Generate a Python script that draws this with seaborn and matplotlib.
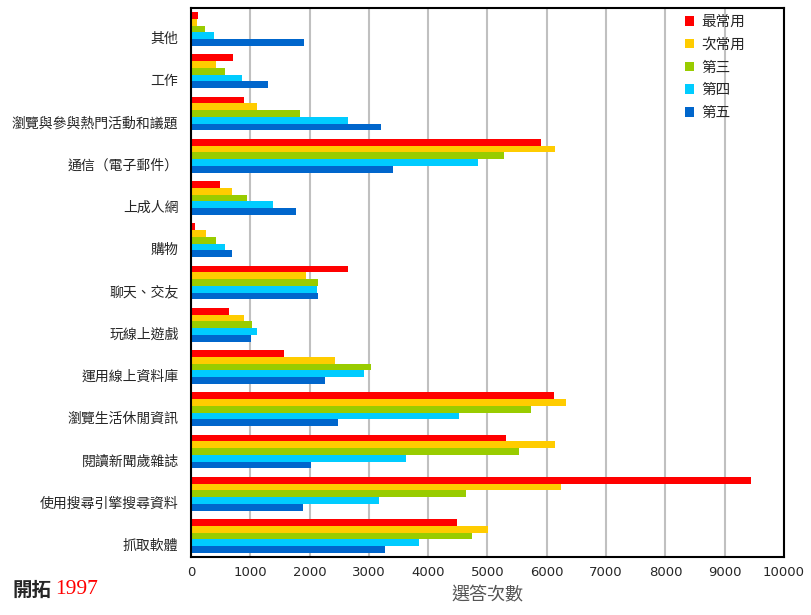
import matplotlib
matplotlib.use("Agg")
import matplotlib.pyplot as plt
import matplotlib.transforms as mtransforms
import seaborn as sns
import pandas as pd
from matplotlib.patches import Patch
from matplotlib.ticker import FixedLocator

categories = ["其他", "工作", "瀏覽與參與熱門活動和議題", "通信（電子郵件）", "上成人網", "購物",
              "聊天、交友", "玩線上遊戲", "運用線上資料庫", "瀏覽生活休閒資訊", "閱讀新聞歲雜誌",
              "使用搜尋引擎搜尋資料", "抓取軟體"]
series = ["最常用", "次常用", "第三", "第四", "第五"]
most = [125, 715, 900, 5900, 490, 70, 2640, 645, 1570, 6120, 5310, 9440, 4485]
second = [95, 430, 1120, 6135, 690, 260, 1940, 900, 2430, 6325, 6135, 6245, 5015]
third = [230, 580, 1830, 5275, 945, 430, 2140, 1035, 3030, 5735, 5525, 4630, 4735]
fourth = [395, 865, 2655, 4835, 1385, 580, 2120, 1105, 2910, 4520, 3620, 3170, 3840]
fifth = [1910, 1300, 3210, 3400, 1775, 690, 2140, 1020, 2265, 2480, 2030, 1890, 3265]
colors = ["#FF0000", "#FFCC00", "#99CC00", "#00CCFF", "#0066CC"]
xticks = [0, 1000, 2000, 3000, 4000, 5000, 6000, 7000, 8000, 9000, 10000]

sns.set_style("white")
plt.rcParams["font.family"] = ["Noto Sans CJK TC", "DejaVu Sans"]

rows = []
for s, vals in zip(series, [most, second, third, fourth, fifth]):
    for c, v in zip(categories, vals):
        rows.append({"cat": c, "series": s, "value": v})
df = pd.DataFrame(rows)

fig = plt.figure(figsize=(8.12, 6.15), dpi=100)
ax = fig.add_axes([191/812, 1-557/615, (784-191)/812, (557-8)/615])

sns.barplot(data=df, y="cat", x="value", hue="series", order=categories, hue_order=series,
            palette=colors, orient="h", width=0.8, linewidth=0, saturation=1, ax=ax, legend=False)

ax.set_xlim(0, 10000)
ax.set_ylim(len(categories) - 0.5, -0.5)
ax.set_xticks(xticks)
ax.set_xticklabels([str(t) for t in xticks], fontsize=9.5,
                   family=["Liberation Sans Narrow", "DejaVu Sans"])
ax.xaxis.grid(True, color="#C0C0C0", linewidth=1.5)
ax.set_axisbelow(True)
ax.set_ylabel("")
ax.set_xlabel("選答次數", fontsize=13, color="#555555", labelpad=5)
ax.tick_params(axis="y", which="major", length=0, labelsize=10, pad=9)
ax.yaxis.set_minor_locator(FixedLocator([i - 0.5 for i in range(len(categories) + 1)]))
ax.tick_params(axis="y", which="minor", direction="in", length=4, width=1.5, color="black")
ax.tick_params(axis="x", which="major", direction="out", length=3, width=1, color="black")
for sp in ax.spines.values():
    sp.set_color("black")
    sp.set_linewidth(1.5)

offset = mtransforms.ScaledTranslation(0, -8.5/100, fig.dpi_scale_trans)
for lab in ax.get_yticklabels():
    lab.set_transform(lab.get_transform() + offset)

handles = [Patch(facecolor=c, edgecolor="none") for c in colors]
ax.legend(handles, series, loc="upper left", bbox_to_anchor=(685/812, 1-15/615),
          bbox_transform=fig.transFigure, frameon=False,
          fontsize=10.5, handlelength=0.65, handleheight=0.65, labelspacing=0.6,
          handletextpad=0.45, borderaxespad=0, borderpad=0)

fig.text(13/812, 1-590/615, "開拓", fontsize=14, fontweight="bold", va="center", ha="left")
fig.text(55/812, 1-590/615, "1997", fontsize=15.5, color="red", va="center", ha="left",
         family=["Liberation Serif", "DejaVu Serif"])

fig.savefig("out.png", dpi=100)
